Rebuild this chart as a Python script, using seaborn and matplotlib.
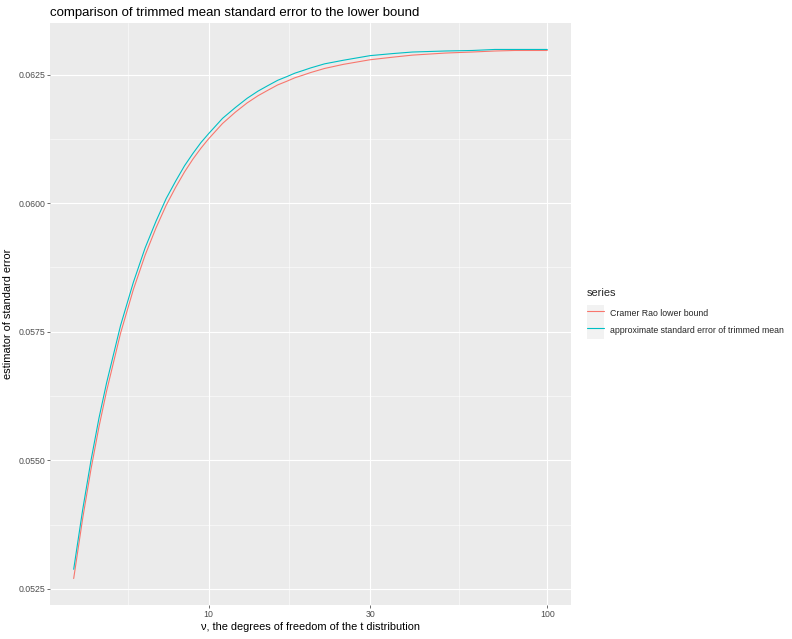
import numpy as np
import pandas as pd
import matplotlib
matplotlib.use("Agg")
import matplotlib.pyplot as plt
import matplotlib.patches as mpatches
from matplotlib.lines import Line2D
from matplotlib.ticker import FixedLocator, NullFormatter
import seaborn as sns

# degrees of freedom of the t distribution
nu = [4, 4.25, 4.5, 4.75, 5, 5.5, 6, 6.5, 7, 7.5, 8, 8.5, 9, 9.5, 10,
      11, 12, 13, 14, 15, 16, 17, 18, 19, 20,
      22, 25, 30, 35, 40, 50, 60, 70, 80, 90, 100]

# Cramer Rao lower bound
crlb = [0.05270, 0.05386, 0.05483, 0.05565, 0.05634, 0.05747, 0.05832,
        0.05899, 0.05952, 0.05996, 0.06031, 0.06061, 0.06086, 0.06107,
        0.06125, 0.06155, 0.06177, 0.06195, 0.06209, 0.06220, 0.06230,
        0.06237, 0.06244, 0.06249, 0.06254, 0.06262, 0.06270, 0.06279,
        0.06284, 0.06288, 0.06292, 0.06294, 0.06296, 0.06297, 0.06297,
        0.06297]

# approximate standard error of trimmed mean
trimmed = [0.05288, 0.05403, 0.05500, 0.05582, 0.05650, 0.05762, 0.05846,
           0.05913, 0.05965, 0.06009, 0.06043, 0.06073, 0.06097, 0.06118,
           0.06135, 0.06165, 0.06186, 0.06204, 0.06218, 0.06229, 0.06239,
           0.06246, 0.06253, 0.06258, 0.06263, 0.06271, 0.06278, 0.06287,
           0.06291, 0.06294, 0.06296, 0.06297, 0.06299, 0.06299, 0.06299,
           0.06299]

series_names = ["Cramer Rao lower bound", "approximate standard error of trimmed mean"]
series_colors = ["#F8766D", "#00BFC4"]

x_breaks = [10, 30, 100]
x_minor = [5.77, 17.3, 54.8]
y_breaks = [0.0525, 0.0550, 0.0575, 0.0600, 0.0625]
y_minor = [0.05375, 0.05625, 0.05875, 0.06125]

df = pd.concat([
    pd.DataFrame({"nu": nu, "value": crlb, "series": series_names[0]}),
    pd.DataFrame({"nu": nu, "value": trimmed, "series": series_names[1]}),
], ignore_index=True)

sns.set_theme(style="darkgrid", rc={
    "axes.facecolor": "#EBEBEB",
    "grid.color": "white",
    "axes.edgecolor": "none",
})
plt.rcParams["font.family"] = ["Liberation Sans", "DejaVu Sans"]

fig = plt.figure(figsize=(11, 8.875), dpi=72)
ax = fig.add_axes([50 / 792, 1 - 605 / 639, 521 / 792, 582 / 639])

sns.lineplot(data=df, x="nu", y="value", hue="series",
             palette=dict(zip(series_names, series_colors)),
             linewidth=1.1, ax=ax, legend=False, zorder=3)

# log x axis with ggplot-like 5% expansion
ax.set_xscale("log")
lo, hi = np.log10(min(nu)), np.log10(max(nu))
pad = 0.05 * (hi - lo)
ax.set_xlim(10 ** (lo - pad), 10 ** (hi + pad))
ymin = min(min(crlb), min(trimmed))
ymax = max(max(crlb), max(trimmed))
ypad = 0.05 * (ymax - ymin)
ax.set_ylim(ymin - ypad, ymax + ypad)

ax.xaxis.set_major_locator(FixedLocator(x_breaks))
ax.xaxis.set_minor_locator(FixedLocator(x_minor))
ax.xaxis.set_minor_formatter(NullFormatter())
ax.set_xticklabels([str(b) for b in x_breaks])
ax.yaxis.set_major_locator(FixedLocator(y_breaks))
ax.yaxis.set_minor_locator(FixedLocator(y_minor))
ax.set_yticklabels([f"{b:.4f}" for b in y_breaks])

ax.grid(which="major", color="white", linewidth=1.1)
ax.grid(which="minor", color="white", linewidth=0.55)
ax.set_axisbelow(True)
ax.tick_params(axis="both", which="major", length=2.75, width=0.7,
               color="#333333", labelcolor="#4D4D4D", labelsize=8.8, pad=2.2,
               bottom=True, left=True)
ax.tick_params(axis="both", which="minor", length=0)

ax.set_xlabel("ν, the degrees of freedom of the t distribution",
              fontsize=11, color="black", labelpad=3)
ax.set_ylabel("estimator of standard error", fontsize=11, color="black", labelpad=5)
ax.set_title("comparison of trimmed mean standard error to the lower bound",
             loc="left", fontsize=13.2, color="black", pad=7)

# legend with grey key backgrounds like ggplot
handles = [(mpatches.Rectangle((0, 0), 1, 1, facecolor="#F2F2F2", edgecolor="none"),
            Line2D([], [], color=c, linewidth=1.1)) for c in series_colors]
leg = fig.legend(handles, series_names, title="series", loc="upper left",
                 bbox_to_anchor=(587 / 792, 1 - 288 / 639), frameon=False,
                 fontsize=8.8, title_fontsize=11, handlelength=1.96,
                 handleheight=2.6, handletextpad=0.6, labelspacing=0,
                 borderpad=0, borderaxespad=0, alignment="left")
leg._legend_box.sep = 7

fig.savefig("out.png", dpi=72)
